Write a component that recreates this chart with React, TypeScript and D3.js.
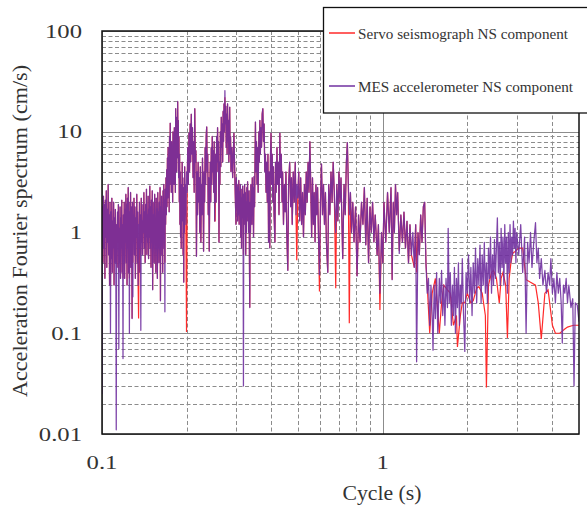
import { useEffect, useRef } from 'react';
import * as d3 from 'd3';

// MES accelerometer, short periods (0.1 - 0.2 s)
const mes_short: [number, number][] = [
    [0.1000, 0.025], [0.1004, 1.8], [0.1008, 0.5], [0.1012, 2.3], [0.1016, 0.7], [0.1020, 1.9],
    [0.1024, 0.35], [0.1028, 2.1], [0.1032, 0.9], [0.1036, 2.6], [0.1040, 0.45], [0.1044, 1.7],
    [0.1048, 0.8], [0.1052, 3.0], [0.1056, 0.6], [0.1060, 1.5], [0.1064, 0.3], [0.1068, 2.0],
    [0.1072, 0.1], [0.1076, 1.6], [0.1080, 0.55], [0.1084, 2.2], [0.1088, 0.4], [0.1092, 1.3],
    [0.1096, 0.7], [0.1100, 2.0], [0.1104, 0.3], [0.1108, 1.4], [0.1112, 0.5], [0.1116, 1.7],
    [0.1120, 0.6], [0.1124, 0.011], [0.1128, 1.2], [0.1132, 0.45], [0.1136, 1.6], [0.1140, 0.8],
    [0.1144, 1.9], [0.1148, 0.07], [0.1152, 1.1], [0.1156, 0.5], [0.1160, 1.8], [0.1164, 0.35],
    [0.1168, 1.4], [0.1172, 0.7], [0.1176, 2.1], [0.1180, 0.4], [0.1184, 1.2], [0.1188, 0.056],
    [0.1192, 1.5], [0.1196, 0.6], [0.1200, 2.0], [0.1204, 0.35], [0.1208, 1.7], [0.1212, 0.8],
    [0.1216, 2.4], [0.1220, 0.5], [0.1224, 1.9], [0.1228, 0.3], [0.1232, 2.2], [0.1236, 0.7],
    [0.1240, 2.8], [0.1244, 0.4], [0.1248, 2.0], [0.1252, 0.1], [0.1256, 1.6], [0.1260, 0.6],
    [0.1264, 2.5], [0.1268, 0.45], [0.1272, 1.8], [0.1276, 0.9], [0.1280, 0.14], [0.1284, 2.0],
    [0.1288, 0.23], [0.1292, 1.5], [0.1296, 0.8], [0.1300, 2.2], [0.1305, 0.6], [0.1310, 1.8],
    [0.1315, 0.35], [0.1320, 1.4], [0.1325, 0.9], [0.1330, 2.4], [0.1335, 0.5], [0.1340, 1.6],
    [0.1345, 0.3], [0.1350, 1.2], [0.1355, 0.7], [0.1360, 2.0], [0.1365, 0.4], [0.1370, 1.5],
    [0.1375, 0.107], [0.1380, 2.2], [0.1385, 0.8], [0.1390, 1.3], [0.1395, 0.6], [0.1400, 1.9],
    [0.1405, 1.0], [0.1410, 2.5], [0.1415, 0.7], [0.1420, 1.6], [0.1425, 0.5], [0.1430, 1.9],
    [0.1435, 0.9], [0.1440, 2.7], [0.1445, 0.6], [0.1450, 1.5], [0.1455, 0.8], [0.1460, 2.3],
    [0.1465, 0.55], [0.1470, 1.7], [0.1475, 0.9], [0.1480, 2.9], [0.1485, 0.7], [0.1490, 1.8],
    [0.1495, 0.45], [0.1500, 2.1], [0.1505, 0.8], [0.1510, 2.6], [0.1515, 0.27], [0.1520, 1.5],
    [0.1525, 0.7], [0.1530, 2.0], [0.1535, 0.5], [0.1540, 2.4], [0.1545, 0.9], [0.1550, 1.4],
    [0.1555, 0.4], [0.1560, 2.2], [0.1565, 0.8], [0.1570, 1.7], [0.1575, 0.35], [0.1580, 2.5],
    [0.1585, 0.7], [0.1590, 1.6], [0.1595, 0.5], [0.1600, 2.0], [0.1605, 0.9], [0.1610, 2.8],
    [0.1615, 0.21], [0.1620, 1.8], [0.1625, 0.6], [0.1630, 2.3], [0.1635, 0.8], [0.1640, 1.5],
    [0.1645, 0.4], [0.1650, 2.6], [0.1655, 1.1], [0.1660, 3.0], [0.1665, 0.7], [0.1670, 2.1],
    [0.1675, 0.163], [0.1680, 2.7], [0.1685, 1.2], [0.1690, 3.5], [0.1695, 1.5], [0.1700, 4.2],
    [0.1705, 1.8], [0.1710, 5.5], [0.1715, 2.2], [0.1720, 7.0], [0.1725, 2.8], [0.1730, 5.0],
    [0.1735, 1.6], [0.1740, 9.0], [0.1745, 3.0], [0.1750, 12.2], [0.1755, 4.0], [0.1760, 6.5],
    [0.1765, 2.5], [0.1770, 8.0], [0.1775, 3.5], [0.1780, 5.5], [0.1785, 2.0], [0.1790, 10.0],
    [0.1795, 4.5], [0.1800, 7.0], [0.1805, 3.0], [0.1810, 11.0], [0.1815, 5.0], [0.1820, 8.5],
    [0.1825, 2.5], [0.1830, 17.0], [0.1835, 6.0], [0.1840, 12.0], [0.1845, 4.0], [0.1850, 14.0],
    [0.1855, 5.5], [0.1860, 20.0], [0.1865, 7.0], [0.1870, 13.0], [0.1875, 3.5], [0.1880, 9.0],
    [0.1885, 2.0], [0.1890, 6.0], [0.1895, 1.2], [0.1900, 4.0], [0.1905, 0.9], [0.1910, 3.0],
    [0.1915, 0.7], [0.1920, 2.5], [0.1925, 1.3], [0.1930, 5.0], [0.1935, 1.8], [0.1940, 3.5],
    [0.1945, 0.6], [0.1950, 2.0], [0.1955, 0.32], [0.1960, 2.8], [0.1965, 1.0], [0.1970, 4.5],
    [0.1975, 1.5], [0.1980, 3.0], [0.1990, 1.2]
];

// MES accelerometer, mid periods (0.2 - 0.5 s)
const mes_mid: [number, number][] = [
    [0.2000, 4.0], [0.2010, 2.5], [0.2020, 7.0], [0.2030, 3.0], [0.2040, 9.7], [0.2050, 4.0],
    [0.2060, 12.0], [0.2070, 5.0], [0.2080, 15.0], [0.2090, 6.0], [0.2100, 11.0], [0.2110, 3.5],
    [0.2120, 8.0], [0.2130, 2.5], [0.2140, 17.0], [0.2150, 5.0], [0.2160, 6.5], [0.2170, 0.58],
    [0.2180, 4.0], [0.2190, 1.5], [0.2200, 5.0], [0.2210, 2.0], [0.2220, 3.5], [0.2230, 1.0],
    [0.2240, 4.5], [0.2250, 0.8], [0.2260, 3.0], [0.2270, 1.5], [0.2280, 5.5], [0.2290, 2.5],
    [0.2300, 0.65], [0.2310, 4.0], [0.2320, 2.0], [0.2330, 7.0], [0.2340, 3.0], [0.2350, 9.0],
    [0.2360, 11.2], [0.2370, 4.0], [0.2380, 6.0], [0.2390, 1.5], [0.2400, 3.5], [0.2410, 0.65],
    [0.2420, 2.5], [0.2430, 5.0], [0.2440, 2.0], [0.2450, 7.0], [0.2460, 3.0], [0.2470, 9.0],
    [0.2480, 4.0], [0.2490, 6.5], [0.2500, 2.5], [0.2510, 8.0], [0.2520, 1.3], [0.2530, 4.0],
    [0.2540, 6.0], [0.2550, 2.0], [0.2560, 9.0], [0.2570, 4.0], [0.2580, 11.0], [0.2590, 5.0],
    [0.2600, 8.0], [0.2610, 0.8], [0.2620, 5.0], [0.2630, 3.0], [0.2640, 10.0], [0.2650, 4.5],
    [0.2660, 14.0], [0.2670, 7.0], [0.2680, 12.0], [0.2690, 5.0], [0.2700, 16.0], [0.2710, 8.0],
    [0.2720, 19.0], [0.2730, 10.0], [0.2740, 25.6], [0.2750, 12.0], [0.2760, 18.0], [0.2770, 7.0],
    [0.2780, 15.0], [0.2790, 6.0], [0.2800, 19.0], [0.2810, 8.0], [0.2820, 13.0], [0.2830, 5.0],
    [0.2840, 10.0], [0.2850, 17.6], [0.2860, 6.0], [0.2870, 9.0], [0.2880, 4.0], [0.2900, 7.0],
    [0.2920, 3.5], [0.2950, 9.7], [0.2970, 4.0], [0.3000, 1.2], [0.3010, 3.5], [0.3020, 1.8],
    [0.3030, 3.0], [0.3040, 1.3], [0.3050, 2.8], [0.3060, 1.5], [0.3070, 3.3], [0.3080, 1.2],
    [0.3090, 2.5], [0.3100, 1.6], [0.3110, 3.0], [0.3120, 0.9], [0.3130, 2.7], [0.3140, 0.7],
    [0.3150, 2.2], [0.3160, 1.4], [0.3170, 2.9], [0.3180, 1.5], [0.3190, 0.03], [0.3200, 2.4],
    [0.3210, 1.2], [0.3220, 3.0], [0.3230, 1.6], [0.3240, 2.5], [0.3250, 0.6], [0.3260, 2.0],
    [0.3270, 1.0], [0.3280, 2.8], [0.3290, 1.3], [0.3300, 3.2], [0.3310, 1.5], [0.3320, 2.2],
    [0.3330, 1.0], [0.3340, 2.6], [0.3350, 0.6], [0.3360, 0.18], [0.3370, 2.0], [0.3380, 1.0],
    [0.3390, 3.0], [0.3400, 1.4], [0.3410, 2.4], [0.3420, 1.2], [0.3430, 3.5], [0.3440, 1.5],
    [0.3450, 2.8], [0.3465, 0.9], [0.3480, 3.6], [0.3495, 1.8], [0.3510, 6.0], [0.3520, 12.5],
    [0.3535, 4.0], [0.3550, 8.0], [0.3565, 3.0], [0.3580, 7.0], [0.3600, 2.5], [0.3620, 10.0],
    [0.3635, 5.0], [0.3650, 13.0], [0.3665, 6.0], [0.3680, 11.0], [0.3700, 7.0], [0.3720, 15.0],
    [0.3740, 17.0], [0.3760, 8.0], [0.3780, 12.0], [0.3800, 4.0], [0.3820, 6.0], [0.3840, 2.5],
    [0.3860, 5.0], [0.3880, 2.0], [0.3900, 6.0], [0.3920, 0.8], [0.3940, 4.0], [0.3960, 0.7],
    [0.3980, 5.5], [0.4000, 9.7], [0.4020, 3.0], [0.4040, 6.0], [0.4060, 2.0], [0.4080, 4.5],
    [0.4100, 1.5], [0.4130, 0.8], [0.4150, 5.0], [0.4170, 2.5], [0.4200, 7.0], [0.4220, 3.0],
    [0.4250, 5.0], [0.4270, 1.5], [0.4300, 9.7], [0.4320, 3.5], [0.4350, 6.0], [0.4380, 2.0],
    [0.4400, 4.0], [0.4430, 1.2], [0.4460, 3.0], [0.4490, 1.6], [0.4520, 4.0], [0.4550, 1.0],
    [0.4590, 0.42], [0.4620, 3.0], [0.4660, 5.0], [0.4700, 1.8], [0.4730, 3.5], [0.4760, 1.2],
    [0.4800, 4.0], [0.4840, 2.0], [0.4880, 5.0], [0.4910, 1.5], [0.4940, 3.0], [0.4980, 2.2]
];

// MES accelerometer, long periods (0.5 - 5 s)
const mes_long: [number, number][] = [
    [0.502, 4.0], [0.506, 1.3], [0.510, 3.5], [0.514, 1.2], [0.518, 2.5], [0.522, 0.9],
    [0.526, 3.0], [0.530, 1.5], [0.534, 4.0], [0.538, 2.0], [0.542, 5.0], [0.546, 2.5],
    [0.550, 8.0], [0.554, 3.0], [0.558, 0.9], [0.562, 3.5], [0.566, 1.2], [0.570, 2.5],
    [0.574, 0.8], [0.578, 3.0], [0.582, 1.5], [0.586, 2.8], [0.590, 1.0], [0.595, 0.38],
    [0.600, 2.0], [0.605, 4.8], [0.610, 1.5], [0.615, 3.0], [0.620, 1.2], [0.625, 2.5],
    [0.630, 0.8], [0.637, 0.4], [0.642, 3.0], [0.648, 1.5], [0.654, 4.0], [0.660, 2.0],
    [0.666, 5.0], [0.672, 2.5], [0.680, 1.0], [0.686, 3.0], [0.692, 1.3], [0.698, 4.0],
    [0.704, 2.0], [0.710, 3.5], [0.720, 0.55], [0.728, 3.0], [0.735, 1.5], [0.742, 5.0],
    [0.748, 7.8], [0.754, 3.0], [0.760, 1.5], [0.767, 2.5], [0.774, 1.0], [0.782, 2.0],
    [0.790, 0.8], [0.800, 1.8], [0.810, 0.37], [0.820, 1.5], [0.830, 0.8], [0.840, 2.0],
    [0.850, 1.2], [0.860, 2.8], [0.870, 0.75], [0.880, 2.2], [0.890, 0.5], [0.900, 1.8],
    [0.910, 1.0], [0.920, 2.0], [0.930, 0.8], [0.940, 1.5], [0.955, 0.6], [0.965, 1.2],
    [0.977, 0.25], [0.990, 1.0], [1.000, 0.5], [1.010, 2.0], [1.025, 0.8], [1.040, 2.5],
    [1.055, 1.0], [1.070, 2.8], [1.080, 0.34], [1.090, 2.0], [1.100, 1.0], [1.110, 3.0],
    [1.120, 1.5], [1.130, 2.5], [1.145, 0.62], [1.160, 1.5], [1.175, 0.8], [1.190, 1.6],
    [1.205, 0.7], [1.220, 1.3], [1.235, 0.5], [1.250, 1.2], [1.265, 0.6], [1.280, 1.0],
    [1.295, 0.45], [1.310, 1.2], [1.320, 0.052], [1.335, 1.0], [1.350, 0.6], [1.365, 1.5],
    [1.380, 0.8], [1.395, 1.8], [1.410, 2.0], [1.425, 0.5], [1.440, 0.25], [1.455, 0.35],
    [1.470, 0.12], [1.485, 0.3], [1.500, 0.15], [1.510, 0.068], [1.525, 0.3], [1.540, 0.14],
    [1.555, 0.4], [1.570, 0.1], [1.590, 0.35], [1.605, 0.2], [1.620, 0.42], [1.635, 0.15],
    [1.650, 0.3], [1.665, 0.12], [1.680, 0.35], [1.700, 0.18], [1.710, 1.1], [1.725, 0.2],
    [1.740, 0.4], [1.755, 0.12], [1.770, 0.3], [1.785, 0.15], [1.800, 0.45], [1.815, 0.1],
    [1.830, 0.35], [1.845, 0.18], [1.860, 0.5], [1.875, 0.12], [1.890, 0.3], [1.905, 0.2],
    [1.920, 0.55], [1.940, 0.15], [1.960, 0.066], [1.980, 0.4], [2.000, 0.25], [2.020, 0.6],
    [2.040, 0.2], [2.060, 0.45], [2.080, 0.15], [2.100, 0.5], [2.120, 0.25], [2.140, 0.7],
    [2.160, 0.2], [2.180, 0.55], [2.200, 0.3], [2.220, 0.75], [2.240, 0.2], [2.260, 0.6],
    [2.280, 0.3], [2.300, 0.8], [2.320, 0.25], [2.340, 0.5], [2.360, 0.2], [2.380, 0.7],
    [2.400, 0.35], [2.420, 0.9], [2.440, 0.25], [2.460, 0.6], [2.480, 0.3], [2.500, 0.85],
    [2.520, 0.35], [2.540, 0.7], [2.560, 1.4], [2.580, 0.4], [2.600, 0.8], [2.620, 0.3],
    [2.640, 1.1], [2.660, 0.45], [2.680, 0.9], [2.700, 0.3], [2.720, 1.2], [2.740, 0.5],
    [2.760, 0.9], [2.780, 0.25], [2.800, 1.0], [2.820, 0.4], [2.840, 1.2], [2.860, 0.5],
    [2.880, 0.9], [2.900, 0.6], [2.920, 1.3], [2.940, 0.7], [2.960, 1.1], [2.980, 0.5],
    [3.000, 1.0], [3.050, 0.6], [3.100, 1.2], [3.150, 0.4], [3.200, 0.9], [3.240, 0.1],
    [3.280, 0.8], [3.320, 0.5], [3.360, 1.0], [3.400, 0.45], [3.450, 0.8], [3.500, 1.25],
    [3.540, 0.5], [3.580, 0.7], [3.620, 0.35], [3.670, 0.55], [3.720, 0.3], [3.780, 0.42],
    [3.830, 0.25], [3.880, 0.4], [3.930, 0.3], [3.970, 0.55], [4.020, 0.25], [4.070, 0.35],
    [4.120, 0.2], [4.170, 0.4], [4.220, 0.25], [4.270, 0.35], [4.320, 0.2], [4.360, 0.08],
    [4.400, 0.3], [4.450, 0.25], [4.500, 0.35], [4.550, 0.2], [4.600, 0.3], [4.680, 0.18],
    [4.750, 0.22], [4.800, 0.03], [4.850, 0.2], [4.930, 0.19], [5.000, 0.13]
];

// servo seismograph: where it parts from the MES trace below 1.43 s
const servo_dips: [number, number][] = [
    [0.1000, 0.8], [0.1072, 0.3], [0.1124, 0.5], [0.1148, 0.4], [0.1188, 0.35], [0.1252, 0.35],
    [0.1288, 0.5], [0.1350, 0.14], [0.1375, 0.6], [0.1675, 0.5], [0.2000, 0.103], [0.2530, 1.3],
    [0.2740, 22.0], [0.3190, 0.6], [0.4940, 0.53], [0.595, 0.26], [0.680, 0.28], [0.760, 0.126],
    [0.977, 0.17], [1.145, 0.66], [1.280, 0.52], [1.320, 0.4]
];

// servo seismograph, long periods (smoother trace)
const servo_long: [number, number][] = [
    [1.440, 0.3], [1.470, 0.1], [1.500, 0.25], [1.540, 0.35], [1.590, 0.1], [1.620, 0.2],
    [1.650, 0.3], [1.700, 0.27], [1.740, 0.25], [1.785, 0.12], [1.830, 0.15], [1.845, 0.073],
    [1.890, 0.15], [1.920, 0.2], [1.960, 0.2], [2.000, 0.25], [2.060, 0.2], [2.100, 0.21],
    [2.160, 0.28], [2.200, 0.29], [2.260, 0.25], [2.320, 0.15], [2.340, 0.029], [2.380, 0.3],
    [2.440, 0.4], [2.480, 0.42], [2.540, 0.35], [2.600, 0.2], [2.640, 0.35], [2.680, 0.4],
    [2.740, 0.3], [2.780, 0.09], [2.820, 0.35], [2.860, 0.5], [2.900, 0.62], [2.960, 0.65],
    [3.050, 0.7], [3.150, 0.7], [3.240, 0.34], [3.360, 0.32], [3.500, 0.3], [3.580, 0.2],
    [3.670, 0.088], [3.780, 0.25], [3.880, 0.27], [4.020, 0.12], [4.120, 0.1], [4.270, 0.1],
    [4.360, 0.105], [4.450, 0.11], [4.550, 0.115], [4.680, 0.118], [4.800, 0.12], [4.930, 0.12],
    [5.000, 0.12]
];

// axes
const x_major = [0.1, 1];
const x_major_labels = ["0.1", "1"];
const x_minor = [0.2, 0.3, 0.4, 0.5, 0.6, 0.7, 0.8, 0.9, 2, 3, 4];
const y_major = [0.01, 0.1, 1, 10, 100];
const y_major_labels = ["0.01", "0.1", "1", "10", "100"];

const legend_names = ["Servo seismograph NS component", "MES accelerometer NS component"];
const servo_color = "#ff2a2a";
const mes_color = "#7030a0";

export default function App() {
    const ref = useRef<SVGSVGElement>(null);

    useEffect(() => {
        const svg = d3.select(ref.current);
        svg.selectAll("*").remove();

        const font = "Liberation Serif, serif";
        const text_color = "#333";
        const left = 102, right = 579, top = 31, bottom = 434;

        // scales
        const x_scale = d3.scaleLog().domain([0.1, 5]).range([left, right]);
        const y_scale = d3.scaleLog().domain([0.01, 100]).range([bottom, top]);

        svg.append("rect").attr("width", 587).attr("height", 507).attr("fill", "#fff");

        // grid, dashed minors
        const y_minor = y_scale.ticks().filter(v => !y_major.some(m => Math.abs(m - v) / m < 1e-6));
        const grid = svg.append("g").attr("stroke", "#8c8c8c").attr("stroke-width", 1);
        grid.selectAll(".ym").data(y_minor).enter().append("line")
            .attr("x1", left).attr("x2", right)
            .attr("y1", d => Math.round(y_scale(d)) + 0.5).attr("y2", d => Math.round(y_scale(d)) + 0.5)
            .attr("stroke-dasharray", "4,2.5");
        grid.selectAll(".xm").data(x_minor).enter().append("line")
            .attr("y1", top).attr("y2", bottom)
            .attr("x1", d => Math.round(x_scale(d)) + 0.5).attr("x2", d => Math.round(x_scale(d)) + 0.5)
            .attr("stroke-dasharray", "4,2.5");
        grid.selectAll(".yM").data(y_major).enter().append("line")
            .attr("x1", left).attr("x2", right)
            .attr("y1", d => Math.round(y_scale(d)) + 0.5).attr("y2", d => Math.round(y_scale(d)) + 0.5);
        grid.selectAll(".xM").data(x_major).enter().append("line")
            .attr("y1", top).attr("y2", bottom)
            .attr("x1", d => Math.round(x_scale(d)) + 0.5).attr("x2", d => Math.round(x_scale(d)) + 0.5);

        // series
        svg.append("clipPath").attr("id", "plot-clip")
            .append("rect").attr("x", left).attr("y", top)
            .attr("width", right - left).attr("height", bottom - top);

        const mes_points = [...mes_short, ...mes_mid, ...mes_long];
        const dip_map = new Map(servo_dips.map(d => [d[0].toFixed(4), d[1]]));
        const servo_points: [number, number][] = mes_points
            .filter(d => d[0] < 1.435)
            .map(d => [d[0], dip_map.get(d[0].toFixed(4)) ?? d[1]] as [number, number])
            .concat(servo_long);

        const line = d3.line<[number, number]>()
            .x(d => x_scale(d[0]))
            .y(d => y_scale(d[1]));

        const series = svg.append("g").attr("clip-path", "url(#plot-clip)");
        series.append("path").datum(servo_points)
            .attr("d", line).attr("fill", "none")
            .attr("stroke", servo_color).attr("stroke-width", 1.2);
        series.append("path").datum(mes_points)
            .attr("d", line).attr("fill", "none")
            .attr("stroke", mes_color).attr("stroke-width", 1.25)
            .attr("stroke-opacity", 0.9).attr("stroke-linejoin", "round");

        // frame
        svg.append("rect").attr("x", left).attr("y", top)
            .attr("width", right - left).attr("height", bottom - top)
            .attr("fill", "none").attr("stroke", "#111").attr("stroke-width", 1.5);

        // y tick labels
        y_major.forEach((v, i) => {
            svg.append("g")
                .attr("transform", "translate(82," + (y_scale(v) + 6.5) + ") scale(1.3,1)")
                .append("text")
                .attr("text-anchor", "end")
                .attr("font-family", font).attr("font-size", 19).attr("fill", text_color)
                .text(y_major_labels[i]);
        });

        // x tick labels
        x_major.forEach((v, i) => {
            svg.append("g")
                .attr("transform", "translate(" + x_scale(v) + ",469) scale(1.3,1)")
                .append("text")
                .attr("text-anchor", "middle")
                .attr("font-family", font).attr("font-size", 19).attr("fill", text_color)
                .text(x_major_labels[i]);
        });

        // axis titles
        svg.append("text")
            .attr("x", 382).attr("y", 500)
            .attr("text-anchor", "middle")
            .attr("font-family", font).attr("font-size", 20).attr("fill", text_color)
            .attr("textLength", 79).attr("lengthAdjust", "spacingAndGlyphs")
            .text("Cycle (s)");

        svg.append("text")
            .attr("transform", "translate(27,231) rotate(-90)")
            .attr("text-anchor", "middle")
            .attr("font-family", font).attr("font-size", 21).attr("fill", text_color)
            .attr("textLength", 332).attr("lengthAdjust", "spacingAndGlyphs")
            .text("Acceleration Fourier spectrum (cm/s)");

        // legend
        const legend = svg.append("g");
        legend.append("rect")
            .attr("x", 323.5).attr("y", 7.5).attr("width", 300).attr("height", 105.5)
            .attr("fill", "#fff").attr("stroke", "#111").attr("stroke-width", 1.3);
        const legend_colors = [servo_color, mes_color];
        const legend_y = [33, 86];
        const legend_len = [210, 215];
        legend_names.forEach((name, i) => {
            legend.append("line")
                .attr("x1", 329).attr("x2", 355)
                .attr("y1", legend_y[i]).attr("y2", legend_y[i])
                .attr("stroke", legend_colors[i]).attr("stroke-width", 1.5);
            legend.append("text")
                .attr("x", 358).attr("y", legend_y[i] + 5.5)
                .attr("font-family", font).attr("font-size", 15.5).attr("fill", text_color)
                .attr("textLength", legend_len[i]).attr("lengthAdjust", "spacingAndGlyphs")
                .text(name);
        });
    }, []);

    return (
        <svg ref={ref} width={587} height={507}
            style={{ position: "absolute", left: 0, top: 0, display: "block" }} />
    );
}
